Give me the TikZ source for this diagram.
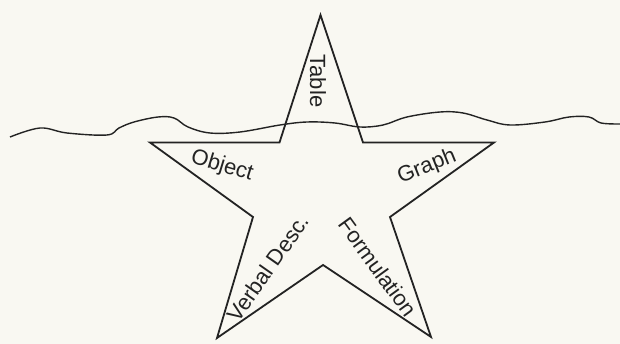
\documentclass[tikz,border=0pt]{standalone}
\usepackage{fontspec}
\setmainfont{Liberation Sans}
\definecolor{paper}{RGB}{249,248,242}
\definecolor{ink}{RGB}{35,35,35}
\begin{document}
\begin{tikzpicture}[x=1pt,y=-1pt,
  starline/.style={draw=ink,line width=1.8pt,line join=miter},
  waveline/.style={draw=ink,line width=1.4pt},
  lbl/.style={text=ink,font=\fontsize{22}{24}\selectfont,inner sep=0pt}]
\fill[paper] (0,0) rectangle (620,344);
\useasboundingbox (0,0) rectangle (620,344);
% star vertices
\coordinate (top) at (320.5,15);
\coordinate (iur) at (363,142.5);
\coordinate (rt)  at (494,142.5);
\coordinate (ir)  at (390,217);
\coordinate (br)  at (431,337);
\coordinate (bm)  at (323,265);
\coordinate (bl)  at (217,338);
\coordinate (il)  at (253,217);
\coordinate (lt)  at (150,142.5);
\coordinate (iul) at (279.5,142.5);
% wavy line
\draw[waveline] plot[smooth,tension=0.6] coordinates {
 (10,137) (40,128) (67,133) (107,135) (119,128) (134,122) (158,117) (174,118)
 (188,127) (210,133) (240,132) (280,125) (307,122) (335,123) (360,127) (383,125)
 (407,117) (440,112) (463,113) (487,120) (510,125) (545,122) (569,117) (589,117)
 (601,123) (620,124)};
% star
\draw[starline] (top) -- (iur) -- (rt) -- (ir) -- (br) -- (bm) -- (bl) -- (il) -- (lt) -- (iul) -- cycle;
% labels
\node[lbl,rotate=-90] (table) at (318,81) {Table};
\node[lbl,rotate=-17] (object) at (222,166) {Object};
\node[lbl,rotate=22] (graph) at (427,167) {Graph};
\node[lbl,rotate=55] (verbal) at (268,268) {Verbal Desc.};
\node[lbl,rotate=-54] (formul) at (378,267) {Formulation};
\end{tikzpicture}
\end{document}
